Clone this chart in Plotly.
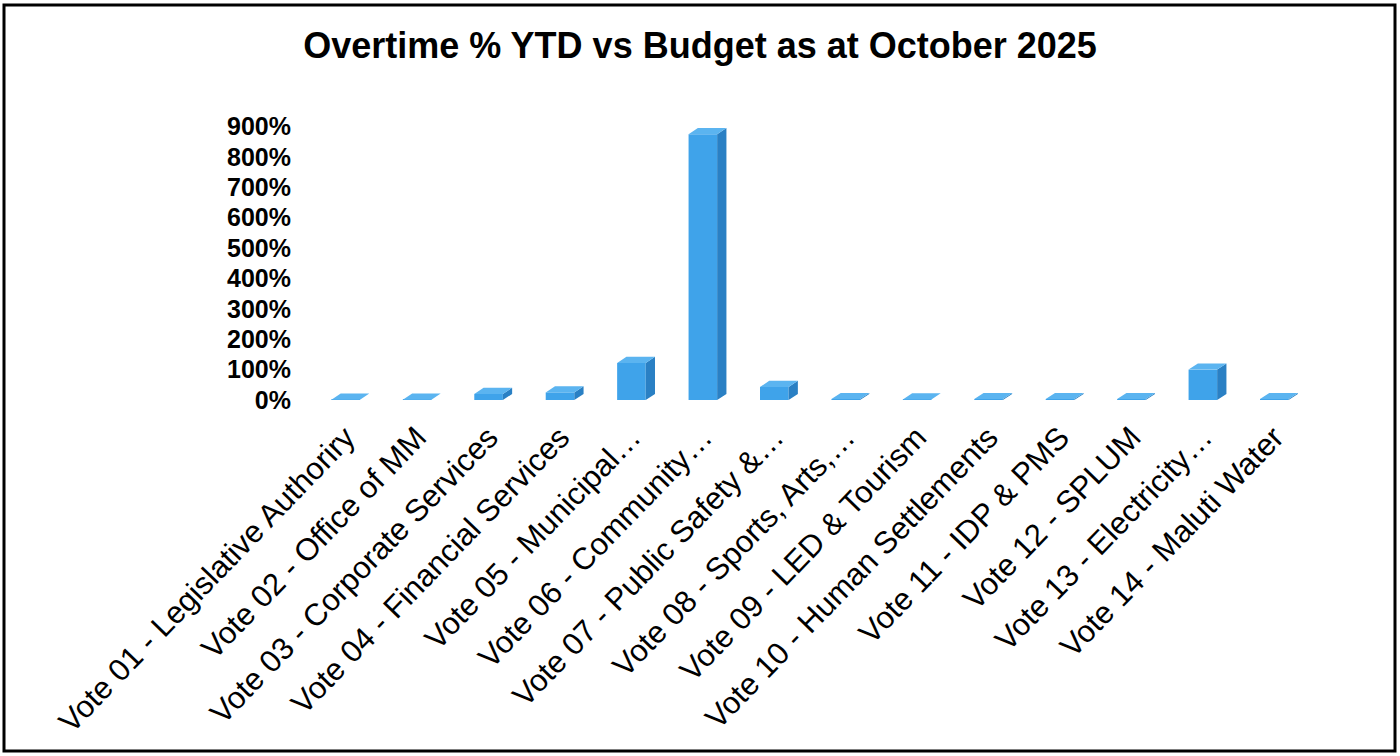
import plotly.graph_objects as go

# Overtime spend as % of YTD budget, per vote
categories = [
    "Vote 01 - Legislative Authoriry",
    "Vote 02 - Office of MM",
    "Vote 03 - Corporate Services",
    "Vote 04 - Financial Services",
    "Vote 05 - Municipal…",
    "Vote 06 - Community…",
    "Vote 07 - Public Safety &…",
    "Vote 08 - Sports, Arts,…",
    "Vote 09 - LED & Tourism",
    "Vote 10 - Human Settlements",
    "Vote 11 - IDP & PMS",
    "Vote 12 - SPLUM",
    "Vote 13 - Electricity…",
    "Vote 14 - Maluti Water",
]
overtime_pct = [1, 1, 20, 25, 122, 875, 43, 3, 2, 3, 3, 3, 100, 3]
tick_values = [0, 100, 200, 300, 400, 500, 600, 700, 800, 900]
tick_labels = ["0%", "100%", "200%", "300%", "400%", "500%", "600%", "700%", "800%", "900%"]

FRONT = "#3fa3ea"
SIDE = "#2a80c4"
TOP = "#5bb4f0"

half_w = 0.2      # half bar width, category units
depth_x = 0.13    # 3-D depth offset along x
depth_y = 20      # 3-D depth offset along y (value units)

idx = list(range(len(categories)))

# side and top faces of each block, built from the values
side_x, side_y, top_x, top_y = [], [], [], []
for i, v in zip(idx, overtime_pct):
    r = i + half_w
    side_x += [r, r + depth_x, r + depth_x, r, r, None]
    side_y += [0, depth_y, v + depth_y, v, 0, None]
    l = i - half_w
    top_x += [l, r, r + depth_x, l + depth_x, l, None]
    top_y += [v, v, v + depth_y, v + depth_y, v, None]

fig = go.Figure()
fig.add_trace(go.Bar(
    x=idx, y=overtime_pct, width=2 * half_w,
    marker=dict(color=FRONT, line=dict(width=0)),
    hovertext=categories, hoverinfo="text+y",
))
fig.add_trace(go.Scatter(
    x=side_x, y=side_y, mode="lines", fill="toself",
    fillcolor=SIDE, line=dict(width=0, color=SIDE), hoverinfo="skip",
))
fig.add_trace(go.Scatter(
    x=top_x, y=top_y, mode="lines", fill="toself",
    fillcolor=TOP, line=dict(width=0, color=TOP), hoverinfo="skip",
))

W, H = 1400, 756
ml, mr, mt, mb = 310, 90, 119, 356

fig.update_layout(
    width=W, height=H,
    margin=dict(l=ml, r=mr, t=mt, b=mb, autoexpand=False),
    paper_bgcolor="white", plot_bgcolor="white",
    showlegend=False,
    title=dict(
        text="Overtime % YTD vs Budget as at October 2025",
        x=0.5, xanchor="center", xref="container",
        y=1 - 45 / H, yanchor="middle", yref="container",
        font=dict(family="Liberation Sans, Arial, sans-serif", size=36,
                  color="black", weight="bold"),
    ),
    font=dict(family="Liberation Sans, Arial, sans-serif", color="black"),
    xaxis=dict(
        range=[-0.5, len(categories) - 0.5],
        tickmode="array", tickvals=idx, ticktext=categories,
        tickangle=-46, tickfont=dict(size=31, color="black"),
        ticklabelstandoff=12,
        showgrid=False, zeroline=False, showline=False, ticks="",
        automargin=False,
    ),
    yaxis=dict(
        range=[0, 925],
        tickmode="array", tickvals=tick_values, ticktext=tick_labels,
        tickfont=dict(size=25, color="black", weight="bold"),
        ticklabelstandoff=18,
        showgrid=False, zeroline=False, showline=False, ticks="",
        automargin=False,
    ),
)

# outer frame around the whole chart
pw, ph = W - ml - mr, H - mt - mb
fig.add_shape(
    type="rect", xref="paper", yref="paper",
    x0=(4 - ml) / pw, x1=(W - 5 - ml) / pw,
    y0=-(H - 5 - (H - mb)) / ph, y1=1 + (mt - 5) / ph,
    line=dict(color="black", width=3), fillcolor="rgba(0,0,0,0)",
    layer="above",
)

fig.write_html("out.html")
